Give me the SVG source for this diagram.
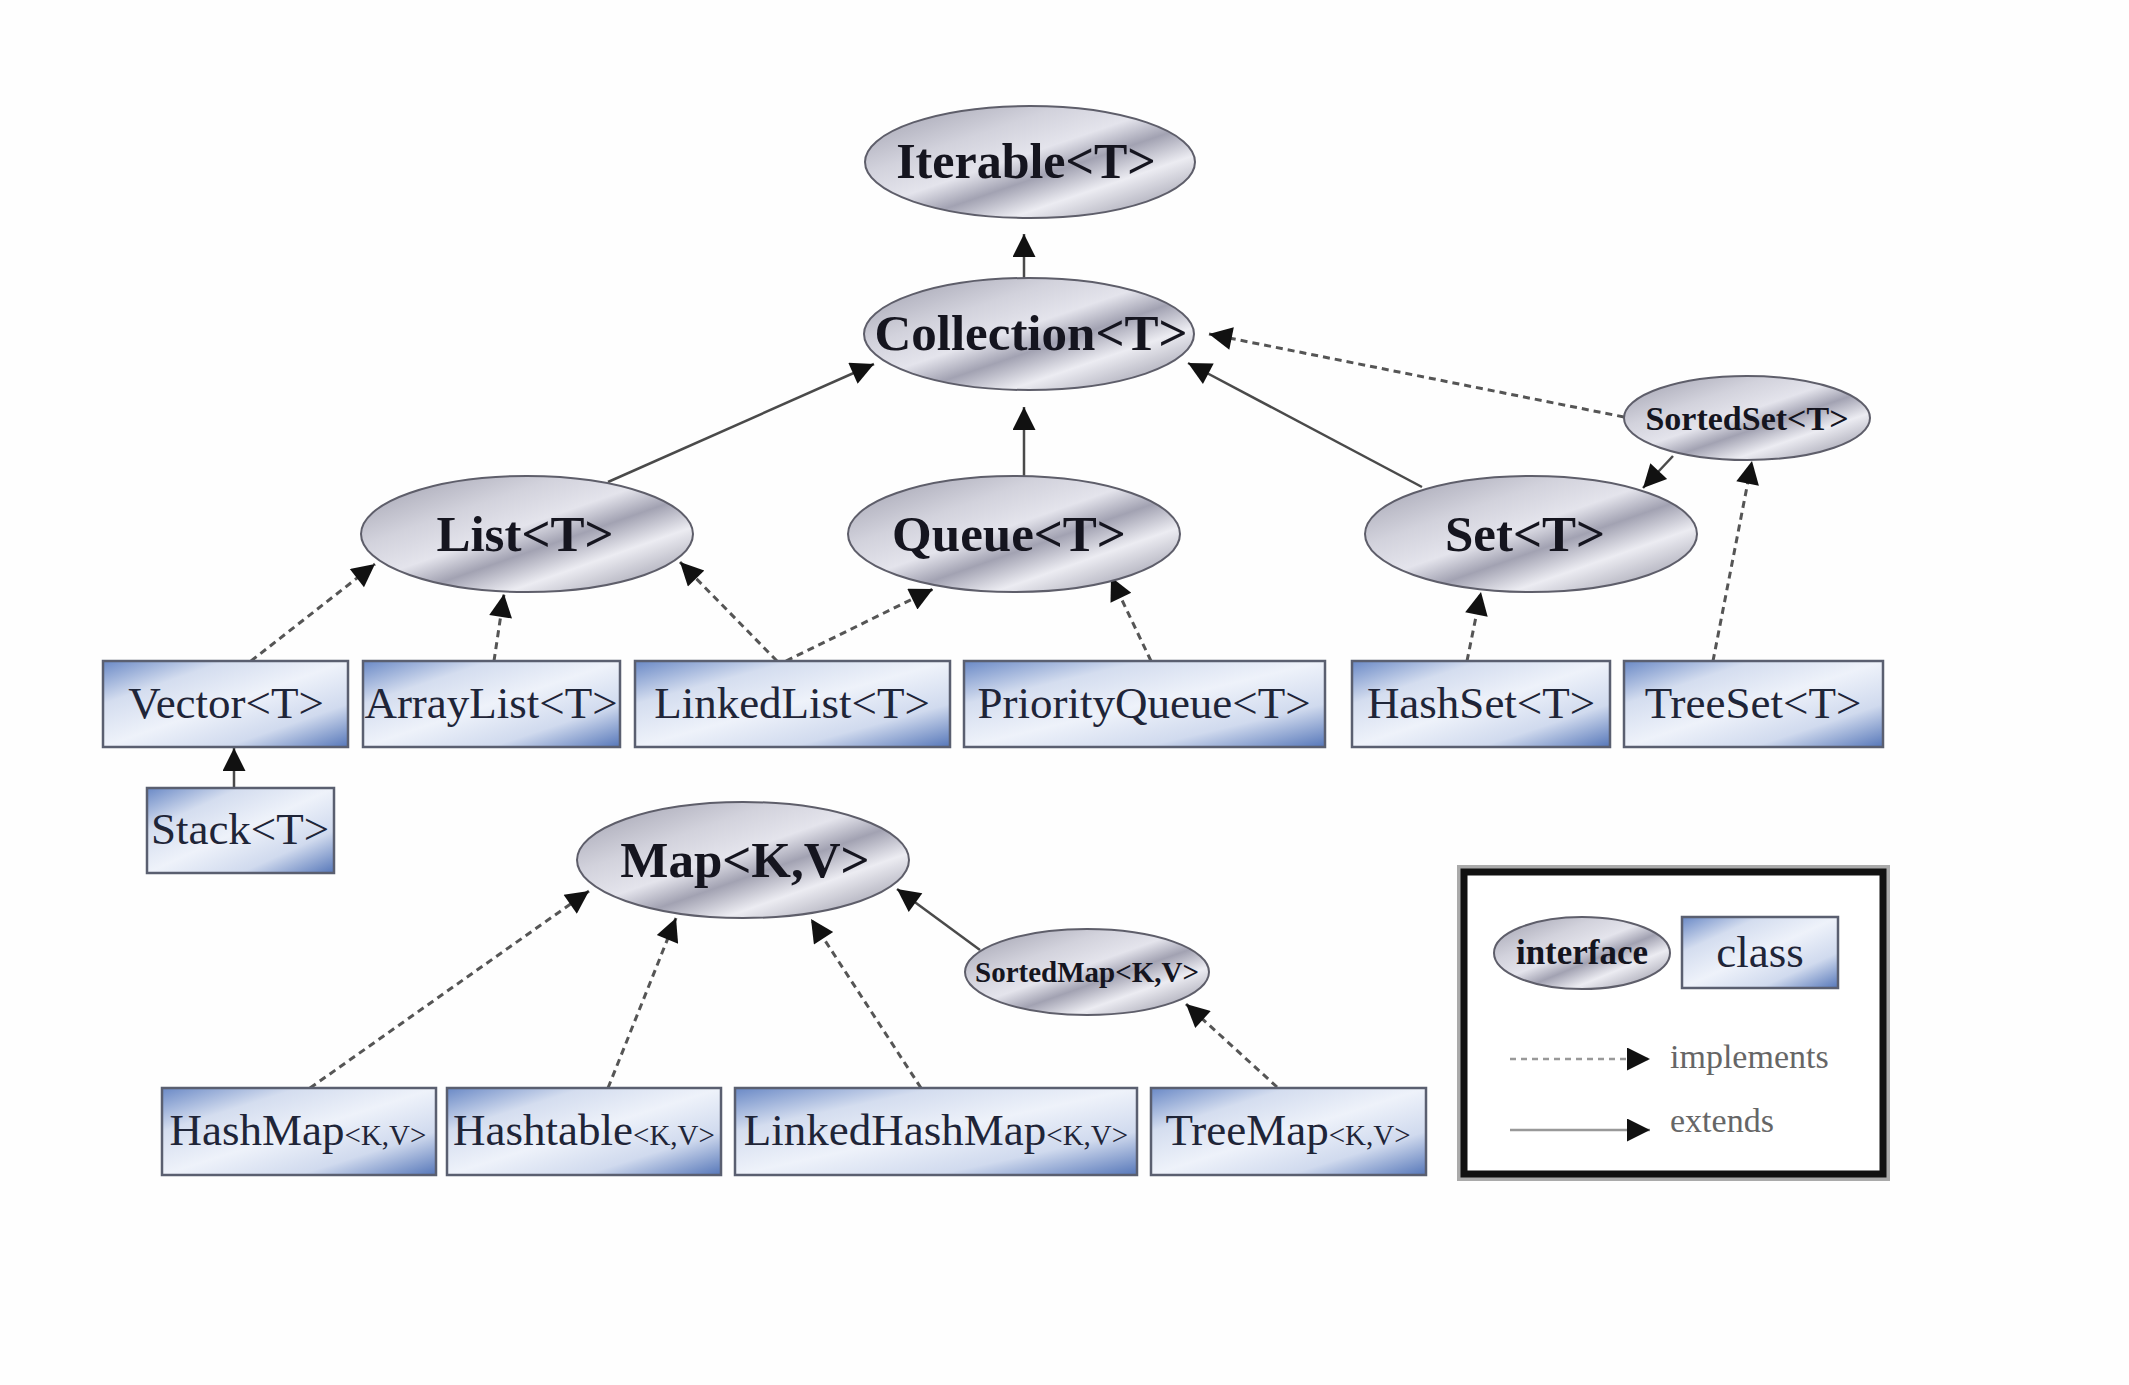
<svg xmlns="http://www.w3.org/2000/svg" width="2129" height="1385" viewBox="0 0 2129 1385">
<defs>
<linearGradient id="gIface" x1="0" y1="0" x2="1" y2="1">
<stop offset="0" stop-color="#9c9cab"/>
<stop offset="0.3" stop-color="#d2d2dc"/>
<stop offset="0.46" stop-color="#e4e4ec"/>
<stop offset="0.58" stop-color="#a2a2b2"/>
<stop offset="0.72" stop-color="#ececf2"/>
<stop offset="0.87" stop-color="#b4b4c0"/>
<stop offset="1" stop-color="#80808f"/>
</linearGradient>
<linearGradient id="gClass" x1="0" y1="0" x2="1" y2="1">
<stop offset="0" stop-color="#6a89c6"/>
<stop offset="0.25" stop-color="#d4ddef"/>
<stop offset="0.5" stop-color="#eef2fa"/>
<stop offset="0.75" stop-color="#d0daee"/>
<stop offset="1" stop-color="#5677b9"/>
</linearGradient>
<marker id="arr" viewBox="0 0 10 10" refX="10" refY="5" markerWidth="27" markerHeight="23" markerUnits="userSpaceOnUse" orient="auto">
<path d="M0,0 L10,5 L0,10 z" fill="#111"/>
</marker>
<style>
.iface{fill:url(#gIface);stroke:#5e5e6a;stroke-width:2}
.cls{fill:url(#gClass);stroke:#5a5f70;stroke-width:2.5}
.it{font-family:"Liberation Serif",serif;font-weight:bold;fill:#15151f;text-anchor:middle}
.ct{font-family:"Liberation Serif",serif;font-size:45px;fill:#1f2538;text-anchor:middle}
.sm{font-size:29px}
.ext{fill:none;stroke:#4a4a4a;stroke-width:2.5;marker-end:url(#arr)}
.imp{fill:none;stroke:#555;stroke-width:3;stroke-dasharray:7 5;marker-end:url(#arr)}
.lg{font-family:"Liberation Serif",serif;font-size:34px;fill:#666}
</style>
</defs>
<rect width="2129" height="1385" fill="#fefefe"/>

<g id="connectors">
<line class="ext" x1="1024" y1="278" x2="1024" y2="234"/>
<line class="ext" x1="608" y1="482" x2="874" y2="364"/>
<line class="ext" x1="1024" y1="476" x2="1024" y2="407"/>
<line class="ext" x1="1422" y1="487" x2="1188" y2="363"/>
<line class="imp" x1="1624" y1="417" x2="1209" y2="334"/>
<line class="ext" x1="1673" y1="456" x2="1643" y2="488"/>
<line class="imp" x1="1713" y1="661" x2="1752" y2="461"/>
<line class="imp" x1="1467" y1="661" x2="1481" y2="592"/>
<line class="imp" x1="251" y1="661" x2="375" y2="564"/>
<line class="imp" x1="494" y1="661" x2="504" y2="594"/>
<line class="imp" x1="777" y1="661" x2="680" y2="562"/>
<line class="imp" x1="786" y1="661" x2="933" y2="589"/>
<line class="imp" x1="1151" y1="661" x2="1111" y2="577"/>
<line class="ext" x1="234" y1="788" x2="234" y2="748"/>
<line class="imp" x1="310" y1="1088" x2="589" y2="891"/>
<line class="imp" x1="608" y1="1088" x2="676" y2="918"/>
<line class="imp" x1="921" y1="1088" x2="811" y2="919"/>
<line class="ext" x1="980" y1="950" x2="897" y2="889"/>
<line class="imp" x1="1277" y1="1087" x2="1186" y2="1004"/>
</g>

<g id="iterable"><ellipse class="iface" cx="1030" cy="162" rx="165" ry="56"/><text class="it" x="1026" y="178" font-size="50">Iterable&lt;T&gt;</text></g>
<g id="collection"><ellipse class="iface" cx="1029" cy="334" rx="165" ry="56"/><text class="it" x="1031" y="350" font-size="51">Collection&lt;T&gt;</text></g>
<g id="list"><ellipse class="iface" cx="527" cy="534" rx="166" ry="58"/><text class="it" x="525" y="551" font-size="51">List&lt;T&gt;</text></g>
<g id="queue"><ellipse class="iface" cx="1014" cy="534" rx="166" ry="58"/><text class="it" x="1009" y="551" font-size="51">Queue&lt;T&gt;</text></g>
<g id="set"><ellipse class="iface" cx="1531" cy="534" rx="166" ry="58"/><text class="it" x="1525" y="551" font-size="51">Set&lt;T&gt;</text></g>
<g id="sortedset"><ellipse class="iface" cx="1747" cy="418" rx="123" ry="42"/><text class="it" x="1747" y="430" font-size="34">SortedSet&lt;T&gt;</text></g>
<g id="map"><ellipse class="iface" cx="743" cy="860" rx="166" ry="58"/><text class="it" x="745" y="877" font-size="51">Map&lt;K,V&gt;</text></g>
<g id="sortedmap"><ellipse class="iface" cx="1087" cy="972" rx="122" ry="43"/><text class="it" x="1087" y="982" font-size="29">SortedMap&lt;K,V&gt;</text></g>

<g id="vector"><rect class="cls" x="103" y="661" width="245" height="86"/><text class="ct" x="226" y="718">Vector&lt;T&gt;</text></g>
<g id="arraylist"><rect class="cls" x="363" y="661" width="257" height="86"/><text class="ct" x="491" y="718">ArrayList&lt;T&gt;</text></g>
<g id="linkedlist"><rect class="cls" x="635" y="661" width="315" height="86"/><text class="ct" x="792" y="718">LinkedList&lt;T&gt;</text></g>
<g id="priorityqueue"><rect class="cls" x="964" y="661" width="361" height="86"/><text class="ct" x="1144" y="718">PriorityQueue&lt;T&gt;</text></g>
<g id="hashset"><rect class="cls" x="1352" y="661" width="258" height="86"/><text class="ct" x="1481" y="718">HashSet&lt;T&gt;</text></g>
<g id="treeset"><rect class="cls" x="1624" y="661" width="259" height="86"/><text class="ct" x="1753" y="718">TreeSet&lt;T&gt;</text></g>
<g id="stack"><rect class="cls" x="147" y="788" width="187" height="85"/><text class="ct" x="240" y="844">Stack&lt;T&gt;</text></g>

<g id="hashmap"><rect class="cls" x="162" y="1088" width="274" height="87"/><text class="ct" x="298" y="1145">HashMap<tspan class="sm">&lt;K,V&gt;</tspan></text></g>
<g id="hashtable"><rect class="cls" x="447" y="1088" width="274" height="87"/><text class="ct" x="584" y="1145">Hashtable<tspan class="sm">&lt;K,V&gt;</tspan></text></g>
<g id="linkedhashmap"><rect class="cls" x="735" y="1088" width="402" height="87"/><text class="ct" x="936" y="1145">LinkedHashMap<tspan class="sm">&lt;K,V&gt;</tspan></text></g>
<g id="treemap"><rect class="cls" x="1151" y="1088" width="275" height="87"/><text class="ct" x="1288" y="1145">TreeMap<tspan class="sm">&lt;K,V&gt;</tspan></text></g>

<g id="legend">
<rect x="1459" y="867" width="429" height="312" fill="none" stroke="#aaa" stroke-width="4"/>
<rect x="1464" y="872" width="419" height="302" fill="#fff" stroke="#111" stroke-width="7"/>
<ellipse class="iface" cx="1582" cy="953" rx="88" ry="36"/>
<text class="it" x="1582" y="964" font-size="35">interface</text>
<rect class="cls" x="1682" y="917" width="156" height="71"/>
<text class="ct" x="1760" y="967" font-size="44">class</text>
<line x1="1510" y1="1059" x2="1650" y2="1059" stroke="#999" stroke-width="2.5" stroke-dasharray="6 5" marker-end="url(#arr)"/>
<text class="lg" x="1670" y="1068">implements</text>
<line x1="1510" y1="1130" x2="1650" y2="1130" stroke="#999" stroke-width="2.5" marker-end="url(#arr)"/>
<text class="lg" x="1670" y="1132">extends</text>
</g>
</svg>
